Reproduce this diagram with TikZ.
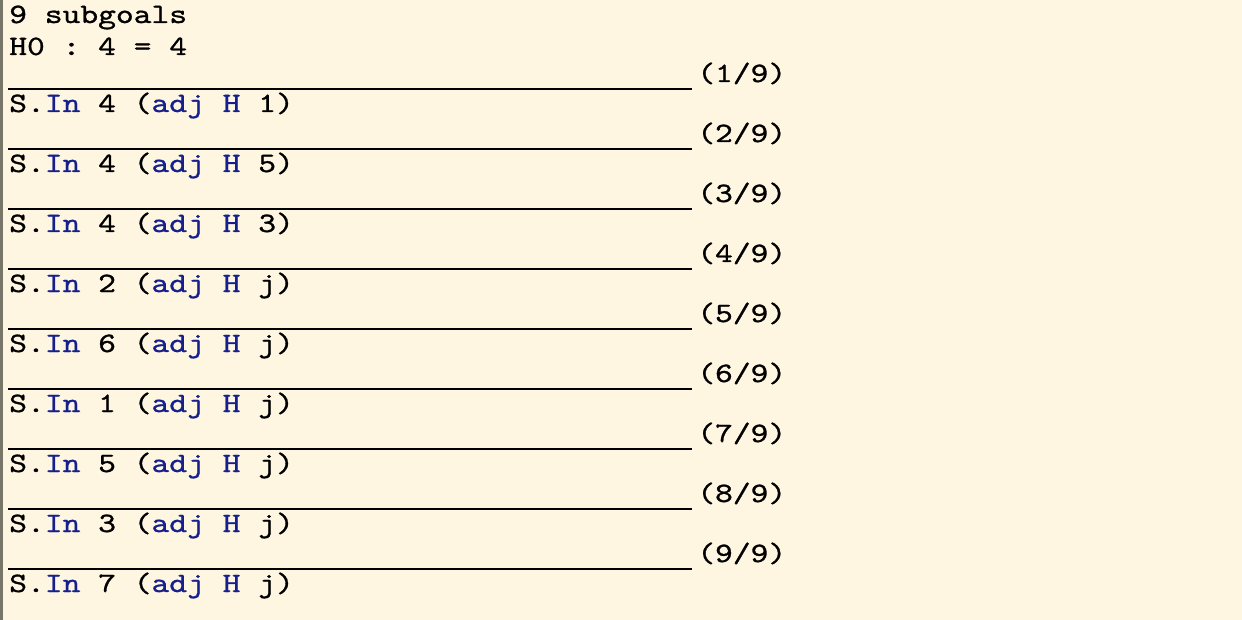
\documentclass[tikz,border=0pt]{standalone}
\usepackage{fontspec}
\setmonofont[FakeStretch=1.21,FakeBold=1]{lmmono10-regular.otf}
\definecolor{coqbg}{RGB}{254,246,224}
\definecolor{coqedge}{RGB}{120,118,105}
\definecolor{coqblue}{RGB}{22,32,140}
\newcommand{\kw}[1]{\textcolor{coqblue}{#1}}
\tikzset{coqtxt/.style={anchor=base west,inner sep=0pt,font=\ttfamily\fontsize{21}{25}\selectfont}}
\begin{document}
\begin{tikzpicture}[x=0.75pt,y=0.75pt,yscale=-1,xscale=1]
			%Shape: Rectangle [id:background]
			\fill [coqbg] (0,0) rectangle (1242,620) ;
			\fill [coqedge] (0,0) rectangle (2.5,620) ;

			% Text Node
			\draw (9,23) node (head) [coqtxt] {9 subgoals};
			% Text Node
			\draw (9,55) node (hyp) [coqtxt] {H0 : 4 = 4};

			%Straight Lines and Text Nodes
			\foreach \k/\sa/\sb in {1/4/1,2/4/5,3/4/3,4/2/j,5/6/j,6/1/j,7/5/j,8/3/j,9/7/j}{
				\draw [line width=1.5pt] (8,{89+60*(\k-1)}) -- (692,{89+60*(\k-1)}) ;
				\draw (697,{82+60*(\k-1)}) node (num\k) [coqtxt] {(\k/9)};
				\draw (9,{112+60*(\k-1)}) node (goal\k) [coqtxt] {S.\kw{In} \sa{} (\kw{adj} \kw{H} \sb)};
			}
\end{tikzpicture}
\end{document}
